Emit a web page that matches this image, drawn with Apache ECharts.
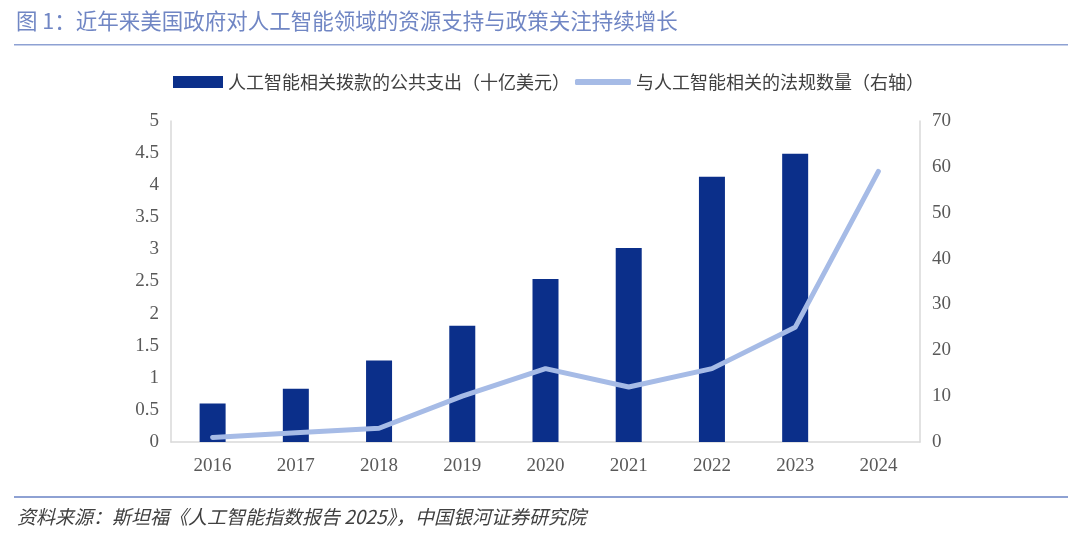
<!DOCTYPE html>
<html>
<head>
<meta charset="utf-8">
<script src="https://cdn.jsdelivr.net/npm/echarts@6/dist/echarts.min.js"></script>
<style>html,body{margin:0;padding:0;background:#fff}#c{width:1080px;height:535px}</style>
</head>
<body>
<div id="c"></div>
<script>
const categories = ['2016','2017','2018','2019','2020','2021','2022','2023','2024'];
const spending = [0.6, 0.83, 1.27, 1.81, 2.54, 3.02, 4.13, 4.49, null];
const regulations = [1, 2, 3, 10, 16, 12, 16, 25, 59];
const leftTicks = [0, 0.5, 1, 1.5, 2, 2.5, 3, 3.5, 4, 4.5, 5];
const rightTicks = [0, 10, 20, 30, 40, 50, 60, 70];
const barName = '人工智能相关拨款的公共支出（十亿美元）';
const lineName = '与人工智能相关的法规数量（右轴）';

const chart = echarts.init(document.getElementById('c'));
const numFont = 'Liberation Serif';
const cjk = 'Noto Sans CJK SC';
chart.setOption({
  animation: false,
  grid: {left: 171, right: 160, top: 121, bottom: 93},
  legend: [{
    data: [{name: barName, icon: 'rect'}],
    left: 168, top: 68, itemWidth: 50, itemHeight: 12, itemGap: 8,
    textStyle: {fontFamily: cjk, fontSize: 18, color: '#404040'}
  }, {
    data: [{name: lineName, icon: 'roundRect'}],
    left: 570, top: 68, itemWidth: 56, itemHeight: 6,
    textStyle: {fontFamily: cjk, fontSize: 18, color: '#404040'}
  }],
  xAxis: {
    type: 'category', data: categories,
    axisLine: {lineStyle: {color: '#d9d9d9', width: 1.5}},
    axisTick: {show: false},
    axisLabel: {fontFamily: numFont, fontSize: 19, color: '#595959', margin: 15}
  },
  yAxis: [{
    type: 'value', min: 0, max: 5, interval: 0.5,
    axisLine: {show: true, lineStyle: {color: '#d9d9d9', width: 1.5}},
    axisTick: {show: false}, splitLine: {show: false},
    axisLabel: {fontFamily: numFont, fontSize: 19, color: '#595959', margin: 12}
  }, {
    type: 'value', min: 0, max: 70, interval: 10,
    axisLine: {show: true, lineStyle: {color: '#d9d9d9', width: 1.5}},
    axisTick: {show: false}, splitLine: {show: false},
    axisLabel: {fontFamily: numFont, fontSize: 19, color: '#595959', margin: 12}
  }],
  series: [{
    name: barName, type: 'bar', data: spending, barWidth: 26,
    itemStyle: {color: '#0b2f8a'}
  }, {
    name: lineName, type: 'line', yAxisIndex: 1, data: regulations,
    symbol: 'none', lineStyle: {color: '#a6bbe6', width: 5, cap: 'round', join: 'round'},
    itemStyle: {color: '#a6bbe6'}
  }],
  graphic: [
    {type: 'text', left: 16, top: 10, style: {text: '图 1：近年来美国政府对人工智能领域的资源支持与政策关注持续增长', font: '21.5px "Noto Sans CJK SC"', fill: '#7086c4'}},
    {type: 'rect', shape: {x: 14, y: 44, width: 1054, height: 1.5}, style: {fill: '#8ea1d3'}},
    {type: 'rect', shape: {x: 14, y: 496, width: 1054, height: 2}, style: {fill: '#8ea1d3'}},
    {type: 'text', left: 17, top: 507, style: {text: '资料来源：斯坦福《人工智能指数报告 2025》，中国银河证券研究院', font: 'italic 19px "Noto Sans CJK SC"', fill: '#404040'}}
  ]
});
</script>
</body>
</html>
